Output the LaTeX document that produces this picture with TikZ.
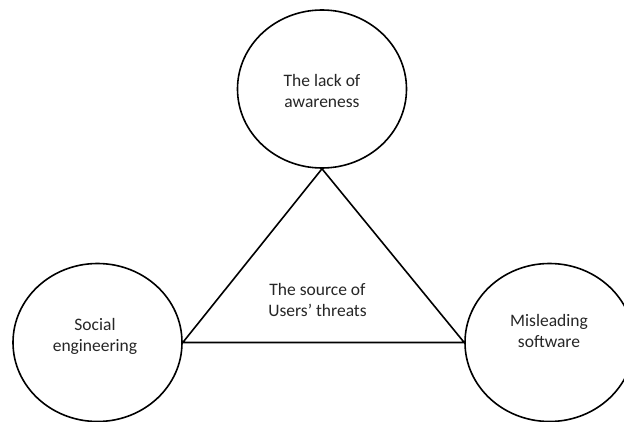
\documentclass[tikz,border=0pt]{standalone}
\usepackage{fontspec}
\setmainfont{Carlito}
\usetikzlibrary{shapes.geometric}
\begin{document}
\begin{tikzpicture}[x=1pt,y=1pt,
  bubble/.style={draw=black,line width=1.6pt,ellipse,minimum width=169pt,minimum height=158pt,inner sep=0pt},
  label/.style={align=center,text=black!85,font=\fontsize{17.5}{21}\selectfont},
  edge/.style={draw=black,line width=1.6pt,line join=miter}]
\useasboundingbox (0,0) rectangle (624,421);
\fill[white] (0,0) rectangle (624,421);
\node[bubble] (top) at (322,332) {};
\node[bubble] (left) at (97.5,78.5) {};
\node[bubble] (right) at (549.5,78.5) {};
\node[label] (ttop) at (322,330.5) {The lack of\\awareness};
\node[label] (tleft) at (95,85) {Social\\engineering};
\node[label] (tright) at (549,90) {Misleading\\software};
\node[label] (tmid) at (317.5,121) {The source of\\Users’ threats};
\draw[edge] (top.south) -- (left.east) -- (right.west) -- cycle;
\end{tikzpicture}
\end{document}
